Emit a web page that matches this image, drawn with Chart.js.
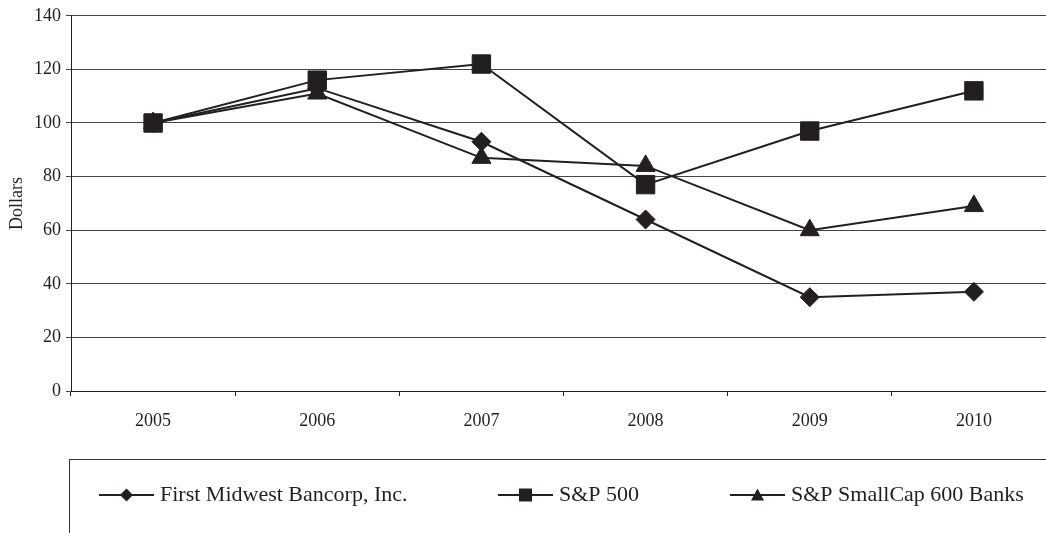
<!DOCTYPE html>
<html><head><meta charset="utf-8">
<script src="https://cdn.jsdelivr.net/npm/chart.js@4/dist/chart.umd.min.js"></script>
<style>html,body{margin:0;padding:0;overflow:hidden;background:#fff}#wrap{position:relative;width:1070px;height:533px}canvas{display:block}</style>
</head><body><div id="wrap"><canvas id="c" width="1070" height="533" style="width:1070px;height:533px"></canvas></div>
<script>
const categories = ['2005', '2006', '2007', '2008', '2009', '2010'];
const firstMidwest = [100, 113, 93, 64, 35, 37];
const sp500 = [100, 116, 122, 77, 97, 112];
const smallCap600Banks = [100, 111, 87, 84, 60, 69];
const seriesNames = ['First Midwest Bancorp, Inc.', 'S&P 500', 'S&P SmallCap 600 Banks'];
const yTicks = [0, 20, 40, 60, 80, 100, 120, 140];
const yTitle = 'Dollars';

const INK = '#231f20';
const FONT = "'Liberation Serif', 'Times New Roman', serif";

function mk(label, data, style, radius, order) {
  return {
    label, data, order,
    borderColor: INK, backgroundColor: INK, borderWidth: 2,
    pointStyle: style, pointRadius: radius, pointHoverRadius: radius,
    pointBackgroundColor: INK, pointBorderColor: INK, pointBorderWidth: 1,
    tension: 0, fill: false
  };
}

function drawMarker(ctx, style, x, y, r) {
  ctx.beginPath();
  if (style === 'rectRot') {
    ctx.moveTo(x, y - r); ctx.lineTo(x + r, y); ctx.lineTo(x, y + r); ctx.lineTo(x - r, y);
  } else if (style === 'rect') {
    ctx.rect(x - r, y - r, 2 * r, 2 * r);
  } else {
    ctx.moveTo(x, y - r); ctx.lineTo(x + r * 1.0, y + r * 0.85); ctx.lineTo(x - r * 1.0, y + r * 0.85);
  }
  ctx.closePath();
  ctx.fill();
}

const legendBox = {
  id: 'legendBox',
  afterDraw(chart) {
    const ctx = chart.ctx;
    ctx.save();
    ctx.strokeStyle = '#333';
    ctx.lineWidth = 1;
    ctx.strokeRect(69.5, 459.5, 2000, 300);
    const starts = [99, 498, 730];
    const legendR = [6.5, 6.5, 6.5];
    const y = 495;
    chart.data.datasets.forEach((ds, i) => {
      const x0 = starts[i];
      ctx.strokeStyle = INK; ctx.lineWidth = 2;
      ctx.beginPath(); ctx.moveTo(x0, y); ctx.lineTo(x0 + 55, y); ctx.stroke();
      ctx.fillStyle = INK;
      drawMarker(ctx, ds.pointStyle, x0 + 27.5, y, legendR[i]);
      ctx.font = '22px ' + FONT;
      ctx.textBaseline = 'alphabetic';
      ctx.fillText(ds.label, x0 + 61, 501);
    });
    ctx.restore();
  }
};

new Chart(document.getElementById('c'), {
  type: 'line',
  data: {
    labels: categories,
    datasets: [
      mk(seriesNames[0], firstMidwest, 'rectRot', 9.5, 1),
      mk(seriesNames[1], sp500, 'rect', 13, 0),
      mk(seriesNames[2], smallCap600Banks, 'triangle', 11, 2)
    ]
  },
  options: {
    responsive: false, maintainAspectRatio: false, animation: false, devicePixelRatio: 1,
    layout: { padding: { left: 0, top: 14, right: 6, bottom: 92 } },
    plugins: { legend: { display: false }, tooltip: { enabled: false } },
    scales: {
      x: {
        type: 'category', offset: true,
        afterFit: s => { s.height = 50; },
        grid: { offset: true, drawOnChartArea: false, drawTicks: true, tickLength: 5, color: INK },
        border: { color: INK, width: 1 },
        ticks: { color: INK, padding: 14, font: { family: FONT, size: 18 }, maxRotation: 0 }
      },
      y: {
        min: 0, max: 140,
        afterFit: s => { s.width = 71; },
        afterBuildTicks: s => { s.ticks = yTicks.map(v => ({ value: v })); },
        grid: { color: '#444', lineWidth: 1, drawTicks: true, tickLength: 5 },
        border: { color: INK, width: 1 },
        ticks: { color: INK, padding: 5, font: { family: FONT, size: 18 } },
        title: { display: true, text: yTitle, color: INK, font: { family: FONT, size: 18 }, padding: { top: 6, bottom: 0 } }
      }
    }
  },
  plugins: [legendBox]
});
</script>
</body></html>
